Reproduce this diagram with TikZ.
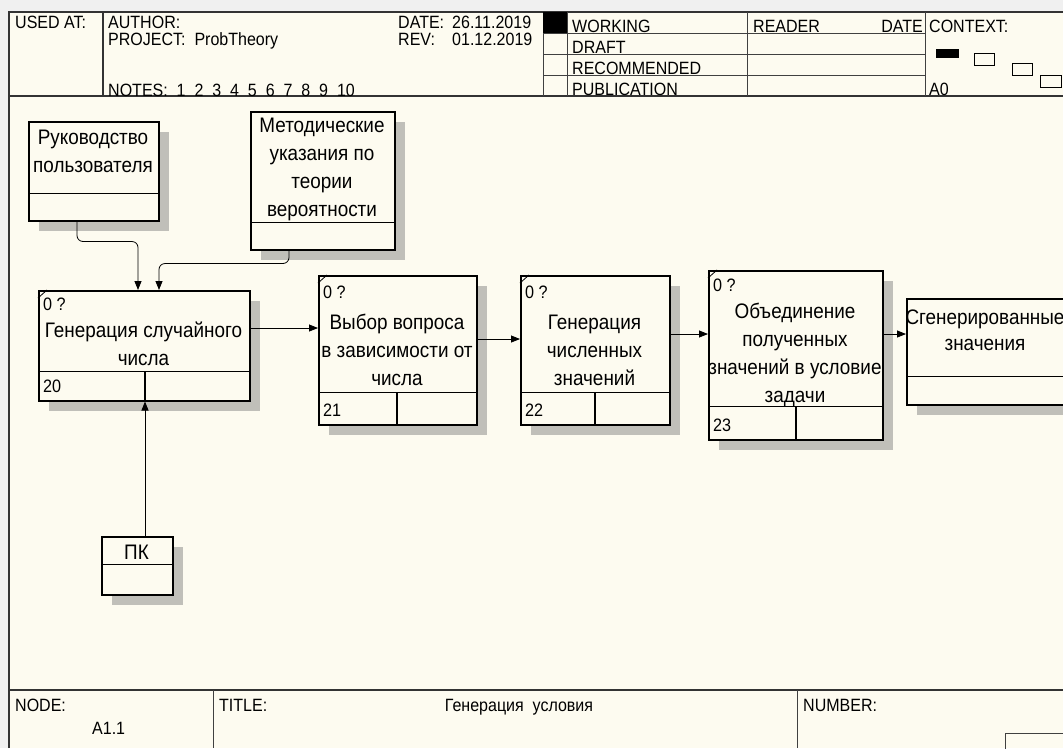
\documentclass[tikz,border=0pt]{standalone}
\usepackage{fontspec}
\setmainfont[FakeStretch=0.9]{Liberation Sans}
\usetikzlibrary{arrows.meta,positioning,shadows,calc}
\definecolor{paper}{RGB}{253,251,240}
\definecolor{shade}{RGB}{192,191,185}
\tikzset{
	frameline/.style={draw=black!80, line width=1.2pt},
	thinline/.style={draw=black!75, line width=0.9pt},
	hdr/.style={anchor=base west, inner sep=0pt, font=\fontsize{17.8}{20}\selectfont},
	box/.style={
		draw, line width=1.5pt, fill=paper, rectangle,
		anchor=north west, inner sep=0pt,
		drop shadow={shadow xshift=10pt, shadow yshift=-10pt, fill=shade, opacity=1}
	},
	divider/.style={line width=1.5pt},
	boxtext/.style={align=center, inner sep=0pt, font=\fontsize{21}{28}\selectfont},
	small/.style={anchor=west, inner sep=0pt, font=\fontsize{18}{20}\selectfont},
	flow/.style={-{Triangle[length=9pt,width=7pt]}, line width=0.8pt}
}
\begin{document}
\begin{tikzpicture}[x=1pt,y=-1pt]
\useasboundingbox (0,0) rectangle (1063,748);
\clip (0,0) rectangle (1063,748);
% paper
\fill[gray!12] (0,0) rectangle (1063,748);
\fill[paper] (9,12) rectangle (1063,748);

% header frame
\draw[frameline] (9,748) -- (9,12) -- (1063,12);
\draw[frameline] (9,96) -- (1063,96);
\draw[frameline] (103,12) -- (103,96);
\foreach \x in {543,567,747,925}
	\draw[thinline] (\x,12) -- (\x,96);
\foreach \y in {33,54,75}
	\draw[thinline] (543,\y) -- (925,\y);
\fill (543,12) rectangle (567,33);

% header texts
\node[hdr] (usedat) at (15,28) {USED AT:};
\node[hdr] (author) at (108,28) {AUTHOR:};
\node[hdr] (project) at (108,45) {PROJECT:~~ProbTheory};
\node[hdr] (notes) at (108,96) {NOTES:~~1~~2~~3~~4~~5~~6~~7~~8~~9~~10};
\node[hdr] (date) at (398,28) {\makebox[54pt][l]{DATE:}26.11.2019};
\node[hdr] (rev) at (398,45) {\makebox[54pt][l]{REV:}01.12.2019};
\node[hdr] (working) at (572,32) {WORKING};
\node[hdr] (draft) at (572,53) {DRAFT};
\node[hdr] (recom) at (572,74) {RECOMMENDED};
\node[hdr] (public) at (572,95) {PUBLICATION};
\node[hdr] (reader) at (753,32) {READER};
\node[hdr, anchor=base east] (rdate) at (923,32) {DATE};
\node[hdr] (context) at (929,32) {CONTEXT:};
\node[hdr] (ctxnode) at (929,95) {A0};

% context pictogram
\fill (936,49) rectangle (959,58);
\draw[line width=0.6pt] (974,53) rectangle (994,65);
\draw[line width=0.6pt] (1012,63) rectangle (1032,75);
\draw[line width=0.6pt] (1040,75) rectangle (1061,87);

% footer
\draw[frameline] (9,690) -- (1063,690);
\draw[thinline] (213,690) -- (213,748);
\draw[thinline] (797,690) -- (797,748);
\draw[thinline] (1005,733) rectangle (1070,760);
\node[hdr] (nodelbl) at (15,711) {NODE:};
\node[hdr] (nodenum) at (92,734) {A1.1};
\node[hdr] (titlelbl) at (219,711) {TITLE:};
\node[hdr, anchor=base] (title) at (519,711) {Генерация~~условия};
\node[hdr] (numberlbl) at (803,711) {NUMBER:};

% boxes
\node[box, minimum width=130pt, minimum height=99pt] (ruk) at (28,121) {};
\node[box, minimum width=144pt, minimum height=138pt] (met) at (250,111) {};
\node[box, minimum width=211pt, minimum height=110pt] (a20) at (38,290) {};
\node[box, minimum width=158pt, minimum height=149pt] (a21) at (318,275) {};
\node[box, minimum width=149pt, minimum height=149pt] (a22) at (520,275) {};
\node[box, minimum width=174pt, minimum height=169pt] (a23) at (708,270) {};
\node[box, minimum width=158pt, minimum height=106pt] (res) at (906,298) {};
\node[box, minimum width=71pt, minimum height=58pt] (pk) at (101,536) {};

% dividers of activity boxes
\foreach \n/\h/\v/\t/\num in {a20/30/107/14/20, a21/33/79/17/21, a22/33/75/17/22, a23/34/88/15/23}{
	\draw[divider] ([yshift=\h pt]\n.south west) -- ([yshift=\h pt]\n.south east);
	\draw[divider] ([xshift=\v pt]\n.south west) -- ([xshift=\v pt, yshift=\h pt]\n.south west);
	\draw[line width=0.8pt] ([yshift=-8pt]\n.north west) -- ([xshift=9pt]\n.north west);
	\node[small] (\n q) at ([xshift=5pt, yshift=-\t pt]\n.north west) {0 ?};
	\node[small] (\n n) at ([xshift=5pt, yshift=15pt]\n.south west) {\num};
}
% dividers of arrow boxes
\foreach \n/\h in {ruk/28, met/28, res/29, pk/31}
	\draw[divider] ([yshift=\h pt]\n.south west) -- ([yshift=\h pt]\n.south east);

% texts
\node[boxtext] (ruktext) at (93,151) {Руководство\\пользователя};
\node[boxtext] (mettext) at (322,169) {Методические\\указания по\\теории\\вероятности};
\node[boxtext] (a20text) at (143.5,344) {Генерация случайного\\числа};
\node[boxtext] (a21text) at (397,350) {Выбор вопроса\\в зависимости от\\числа};
\node[boxtext] (a22text) at (594.5,350) {Генерация\\численных\\значений};
\node[boxtext] (a23text) at (795,355) {Объединение\\полученных\\значений в условие\\задачи};
\node[boxtext, font=\fontsize{21}{26}\selectfont] (restext) at (985,330) {Сгенерированные\\значения};
\node[boxtext] (pktext) at (136.5,552) {ПК};

% outputs to inputs
\coordinate (o20) at ([yshift=-38pt]a20.north east);
\draw[flow] (o20) -- (o20 -| a21.west);
\coordinate (o21) at ([yshift=-64pt]a21.north east);
\draw[flow] (o21) -- (o21 -| a22.west);
\coordinate (o22) at ([yshift=-59pt]a22.north east);
\draw[flow] (o22) -- (o22 -| a23.west);
\coordinate (o23) at ([yshift=-64pt]a23.north east);
\draw[flow] (o23) -- (o23 -| res.west);

% controls
\coordinate (c1) at ([xshift=49pt]ruk.south west);
\coordinate (i1) at ([xshift=100pt]a20.north west);
\draw[flow, rounded corners=6pt] (c1) -- ++(0,20) -| (i1);
\coordinate (c2) at ([xshift=39pt]met.south west);
\coordinate (i2) at ([xshift=121pt]a20.north west);
\draw[flow, rounded corners=6pt] (c2) -- ++(0,13) -| (i2);

% mechanism
\coordinate (m1) at ([xshift=44pt]pk.north west);
\draw[flow] (m1) -- (m1 |- a20.south);
\end{tikzpicture}
\end{document}
